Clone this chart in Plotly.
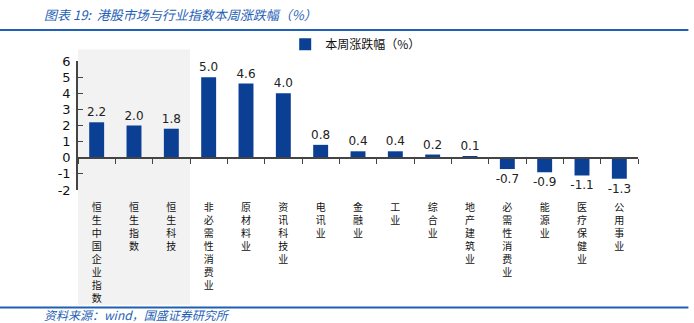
import plotly.graph_objects as go

categories = ["恒生中国企业指数", "恒生指数", "恒生科技", "非必需性消费业", "原材料业",
              "资讯科技业", "电讯业", "金融业", "工业", "综合业", "地产建筑业",
              "必需性消费业", "能源业", "医疗保健业", "公用事业"]
values = [2.2, 2.0, 1.8, 5.0, 4.6, 4.0, 0.8, 0.4, 0.4, 0.2, 0.1, -0.7, -0.9, -1.1, -1.3]
highlighted = ["恒生中国企业指数", "恒生指数", "恒生科技"]
series_name = "本周涨跌幅（%）"
title_text = "图表 19:  港股市场与行业指数本周涨跌幅（%）"
source_text = "资料来源：wind，国盛证券研究所"
y_range = [-2, 6]
y_ticks = list(range(-2, 7))

blue = "#0b3f94"
line_blue = "#1f5fb5"
cjk = "Noto Sans CJK SC"

tick_text = ["<br>".join(list(c)) for c in categories]

fig = go.Figure()
fig.add_trace(go.Bar(
    x=categories, y=values, name=series_name,
    marker=dict(color=blue, line=dict(width=0)),
    width=0.4,
    text=[f"{v:.1f}" for v in values], textposition="outside",
    textfont=dict(family="DejaVu Sans", size=12, color="#222222"),
    constraintext="none",
    cliponaxis=False, showlegend=True,
))
# invisible trace to carry the zero-line axis
fig.add_trace(go.Scatter(x=categories, y=[0]*len(categories), xaxis="x2",
                         mode="markers", marker=dict(opacity=0), showlegend=False,
                         hoverinfo="skip"))

hi_idx = [categories.index(c) for c in highlighted]
fig.add_shape(type="rect", xref="x", yref="paper",
              x0=min(hi_idx) - 0.5, x1=max(hi_idx) + 0.5, y0=-0.89, y1=1.09,
              fillcolor="#f2f2f2", line=dict(width=0), layer="below")

zero_pos = (0 - y_range[0]) / (y_range[1] - y_range[0])

fig.update_layout(
    width=694, height=323,
    margin=dict(l=78, r=56, t=61, b=133),
    paper_bgcolor="white", plot_bgcolor="rgba(0,0,0,0)",
    bargap=0.6,
    uniformtext=dict(minsize=12, mode="show"),
    xaxis=dict(type="category", tickmode="array", tickvals=categories, ticktext=tick_text,
               showline=False, ticks="", showgrid=False, zeroline=False,
               tickangle=0, ticklabelstandoff=10,
               tickfont=dict(family=cjk, size=10, color="#111111"),
               range=[-0.5, len(categories) - 0.5]),
    xaxis2=dict(type="category", overlaying="x", matches="x", anchor="free", position=zero_pos,
                showline=True, linecolor="#444444", linewidth=1.5,
                ticks="outside", tickson="boundaries", ticklen=5, tickcolor="#444444",
                showticklabels=False, showgrid=False, zeroline=False),
    yaxis=dict(range=y_range, tickmode="array", tickvals=y_ticks,
               ticktext=[str(t) for t in y_ticks], showgrid=False, zeroline=False,
               showline=True, linecolor="#444444", linewidth=1.5,
               ticks="inside", ticklen=5, tickcolor="#444444", ticklabelstandoff=3,
               tickfont=dict(family="DejaVu Sans", size=13, color="#111111")),
    legend=dict(x=0.37, y=1.13, xanchor="left", yanchor="middle", orientation="h",
                font=dict(family=cjk, size=12, color="#111111"),
                bgcolor="rgba(0,0,0,0)", itemwidth=30),
    showlegend=True,
)

fig.add_annotation(text=f"<i>{title_text}</i>", xref="paper", yref="paper", x=-0.065, y=1.36,
                   xanchor="left", yanchor="middle", showarrow=False,
                   font=dict(family=cjk, size=13, color=line_blue))
fig.add_annotation(text=f"<i>{source_text}</i>", xref="paper", yref="paper", x=-0.065, y=-0.965,
                   xanchor="left", yanchor="middle", showarrow=False,
                   font=dict(family=cjk, size=12, color=line_blue))
fig.add_shape(type="line", xref="paper", yref="paper", x0=-0.82/5.6, x1=1.09,
              y0=1.24, y1=1.24, line=dict(color=line_blue, width=2))
fig.add_shape(type="line", xref="paper", yref="paper", x0=-0.82/5.6, x1=1.09,
              y0=-0.91, y1=-0.91, line=dict(color=line_blue, width=2))

fig.write_html("out.html")
